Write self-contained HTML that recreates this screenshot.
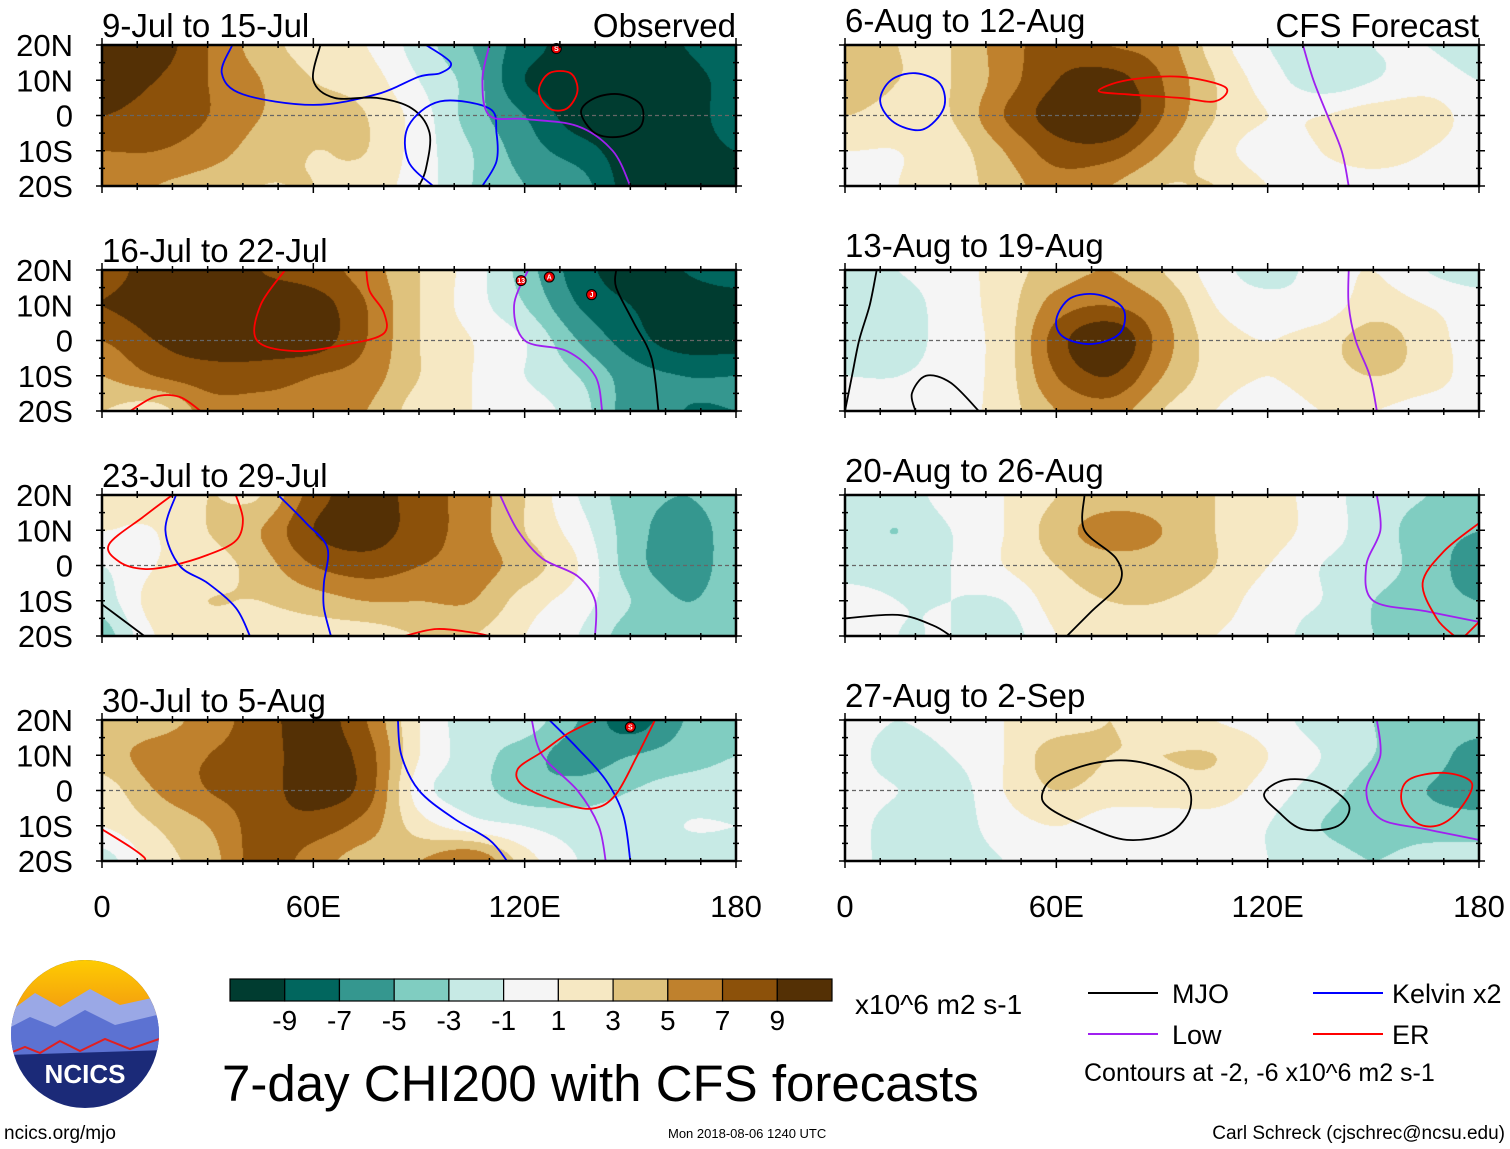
<!DOCTYPE html>
<html><head><meta charset="utf-8">
<style>
body{margin:0;background:#fff;width:1510px;height:1149px;overflow:hidden;position:relative;font-family:"Liberation Sans",sans-serif;}
.t{position:absolute;white-space:nowrap;color:#000;line-height:1;}
</style></head>
<body>
<svg id="main" width="1510" height="1149" style="position:absolute;left:0;top:0"></svg>
<script>
// ---- Data ----
const lons=[0,15,30,45,60,75,90,105,120,135,150,165,180];
const lats=[20,10,0,-10,-20];
const titles=["9-Jul to 15-Jul","16-Jul to 22-Jul","23-Jul to 29-Jul","30-Jul to 5-Aug","6-Aug to 12-Aug","13-Aug to 19-Aug","20-Aug to 26-Aug","27-Aug to 2-Sep"];
const field0=[[9,10,7,4,2,1,-2,-5,-8,-10,-10,-9,-7],[10,9,7,5,3,2,-1,-4,-9,-10,-10,-10,-8],[9,8,7,5,4,3,0,-4,-7,-10,-10,-10,-8],[7,7,6,4,3,3,0,-3,-6,-8,-10,-10,-9],[6,5,4,3,3,2,0,-3,-5,-6,-10,-10,-10]];
const field1=[[8,10,10,9,8,6,3,0,-4,-8,-10,-9,-8],[9,10,10,10,10,7,3,0,-3,-7,-9,-10,-10],[7,9,10,10,10,7,3,1,-1,-5,-8,-10,-10],[5,7,8,8,7,6,3,1,-1,-3,-6,-7,-7],[3,2,6,6,6,5,2,1,0,-2,-6,-7,-7]];
const field2=[[1,2,3,3,8,10,8,6,3,-1,-4,-5,-4],[1,1,3,5,9,10,8,6,3,0,-4,-6,-4],[-1,1,2,4,7,8,7,6,4,1,-4,-6,-4],[-2,2,3,3,4,5,5,5,2,0,-3,-5,-4],[-4,1,2,2,2,2,3,3,1,-1,-4,-4,-4]];
const field3=[[4,4,6,8,10,7,1,-2,-2,-5,-8,-5,-4],[4,6,7,8,10,8,1,-2,-4,-6,-5,-4,-3],[2,5,7,8,10,8,0,-2,-4,-4,-3,-2,-2],[1,3,5,8,8,6,2,0,-1,-2,-2,-1,-1],[-2,2,4,8,6,4,5,7,2,-1,-3,-2,-2]];
const field4=[[4,3,3,6,8,7,6,2,-1,-2,-1,-1,-2],[5,3,3,6,9,10,7,3,0,-2,-1,0,-1],[3,2,3,7,10,11,7,3,1,1,2,2,0],[1,1,2,5,8,8,5,2,0,1,2,1,0],[0,1,2,4,6,5,3,3,1,0,0,0,0]];
const field5=[[-2,-1,0,2,4,5,3,0,-2,0,1,-1,-2],[-3,-2,0,2,6,7,5,1,0,0,2,1,0],[-2,-2,0,2,8,11,6,2,1,2,4,2,0],[-1,-1,0,2,7,9,5,2,1,2,3,2,0],[0,0,0,2,5,6,3,1,0,1,1,0,0]];
const field6=[[-1,-2,0,1,3,4,4,3,2,0,-2,-3,-4],[-2,-3,-1,1,4,6,5,3,2,0,-2,-4,-5],[-2,-2,-1,1,3,4,4,3,1,-1,-2,-4,-6],[0,-1,-1,-1,2,3,3,2,0,-1,-3,-4,-5],[0,-1,-1,-2,1,2,2,1,0,-2,-3,-3,-3]];
const field7=[[0,-1,0,1,2,3,2,1,0,-2,-3,-4,-4],[0,-2,-1,1,4,3,3,3,1,-1,-3,-4,-6],[0,-1,-2,1,3,2,2,2,0,-2,-4,-5,-6],[0,-2,-2,0,1,0,0,0,-1,-3,-4,-4,-4],[0,-2,-2,-1,0,0,0,0,-1,-2,-3,-2,-2]];
const fields=[field0,field1,field2,field3,field4,field5,field6,field7];
const levels=[-9,-7,-5,-3,-1,1,3,5,7,9];
const colors=["#003c30","#01665e","#35978f","#80cdc1","#c7eae5","#f5f5f5","#f6e8c3","#dfc27d","#bf812d","#8c510a","#543005"];
const lines=[
[0,"#0000ff",0,[[37,20],[34,12],[40,6],[60,3],[78,6],[90,11],[96,12],[99,15],[92,20]]],
[0,"#000",0,[[62,20],[60,10],[66,5],[78,5],[88,2],[93,-5],[92,-15],[90,-20]]],
[0,"#0000ff",0,[[94,-20],[87,-13],[87,-3],[96,4],[110,2],[112,-5],[112,-13],[108,-20]]],
[0,"#a020f0",0,[[110,20],[108,10],[110,0],[120,-1],[135,-3],[145,-10],[150,-20]]],
[0,"#ff0000",1,[[124,7],[127,12],[133,12],[135,7],[132,2],[127,2]]],
[0,"#000",1,[[136,1],[140,5],[147,6],[153,3],[153,-3],[147,-6],[140,-5]]],
[1,"#ff0000",0,[[52,20],[45,10],[44,0],[55,-3],[70,-1],[80,2],[80,8],[76,14],[75,20]]],
[1,"#ff0000",0,[[8,-20],[15,-16],[22,-16],[28,-20]]],
[1,"#a020f0",0,[[121,20],[117,10],[120,0],[132,-3],[140,-10],[142,-20]]],
[1,"#000",0,[[146,20],[146,15],[151,5],[156,-5],[158,-20]]],
[2,"#ff0000",0,[[20,20],[12,14],[2,6],[5,1],[12,-1],[20,0],[30,3],[38,7],[40,13],[38,20]]],
[2,"#0000ff",0,[[21,20],[18,10],[22,0],[30,-5],[38,-12],[42,-20]]],
[2,"#0000ff",0,[[50,20],[58,12],[64,5],[63,-5],[63,-12],[65,-20]]],
[2,"#000",0,[[0,-11],[8,-17],[12,-20]]],
[2,"#ff0000",0,[[86,-20],[95,-18],[105,-19],[110,-20]]],
[2,"#a020f0",0,[[113,20],[118,10],[125,2],[135,-3],[140,-10],[140,-20]]],
[3,"#ff0000",0,[[0,-11],[8,-16],[12,-19],[12,-20]]],
[3,"#0000ff",0,[[84,20],[85,10],[90,0],[100,-8],[110,-14],[115,-20]]],
[3,"#a020f0",0,[[122,20],[125,10],[135,0],[141,-10],[143,-20]]],
[3,"#0000ff",0,[[127,20],[135,12],[143,3],[148,-7],[150,-20]]],
[3,"#ff0000",0,[[157,20],[152,10],[146,-1],[140,-5],[132,-4],[120,1],[118,6],[125,11],[132,16],[140,20]]],
[4,"#0000ff",1,[[10,4],[13,10],[20,12],[27,9],[28,2],[22,-4],[14,-2]]],
[4,"#ff0000",1,[[72,7],[80,10],[95,11],[108,8],[105,4],[95,5],[80,6]]],
[4,"#a020f0",0,[[130,20],[133,10],[137,0],[141,-10],[143,-20]]],
[5,"#0000ff",1,[[60,6],[64,12],[72,13],[79,9],[78,2],[70,-1],[62,1]]],
[5,"#000",0,[[9,20],[7,10],[4,0],[2,-10],[0,-20]]],
[5,"#000",0,[[20,-20],[19,-15],[23,-10],[30,-12],[38,-20]]],
[5,"#a020f0",0,[[143,20],[143,10],[145,0],[149,-10],[151,-20]]],
[6,"#000",0,[[68,20],[68,10],[77,2],[78,-5],[70,-13],[63,-20]]],
[6,"#000",0,[[0,-15],[15,-14],[25,-17],[30,-20]]],
[6,"#a020f0",0,[[151,20],[152,10],[148,0],[150,-10],[165,-13],[180,-16]]],
[6,"#ff0000",0,[[180,12],[170,4],[164,-5],[168,-15],[173,-20]]],
[6,"#ff0000",0,[[176,-20],[180,-16]]],
[7,"#000",1,[[56,-1],[60,4],[72,8],[84,8],[96,3],[98,-5],[92,-12],[80,-14],[68,-10],[58,-5]]],
[7,"#000",1,[[119,-1],[125,3],[135,2],[143,-4],[140,-10],[130,-11],[123,-6]]],
[7,"#ff0000",1,[[162,-9],[158,-3],[160,3],[170,5],[178,2],[174,-6],[168,-10]]],
[7,"#a020f0",0,[[151,20],[152,10],[148,0],[152,-8],[165,-11],[180,-14]]]
];
const storms=[[0,129,19,"S"],[1,119,17,"13"],[1,127,18,"A"],[1,139,13,"J"],[3,150,18,"S"]];
const PW=634,PH=141;
const colX=[102,845], rowY=[45,270,495,720];
function px(p){return colX[p<4?0:1];}
function py(p){return rowY[p%4];}
function xs(p,lon){return px(p)+lon/180*PW;}
function ys(p,lat){return py(p)+(20-lat)/40*PH;}
const NS="http://www.w3.org/2000/svg";
const svg=document.getElementById('main');
function mk(tag,attrs,parent){const e=document.createElementNS(NS,tag);for(const k in attrs)e.setAttribute(k,attrs[k]);(parent||svg).appendChild(e);return e;}
function cr(g,i){return g[Math.max(0,Math.min(g.length-1,i))];}
function cat(p0,p1,p2,p3,t){return 0.5*((2*p1)+(-p0+p2)*t+(2*p0-5*p1+4*p2-p3)*t*t+(-p0+3*p1-3*p2+p3)*t*t*t);}
function sample(f,gx,gy){
  const ix=Math.floor(gx),iy=Math.floor(gy),tx=gx-ix,ty=gy-iy;const r=[];
  for(let j=-1;j<=2;j++){const row=cr(f,iy+j);r.push(cat(cr(row,ix-1),cr(row,ix),cr(row,ix+1),cr(row,ix+2),tx));}
  return cat(r[0],r[1],r[2],r[3],ty);
}
function colorIdx(v){let i=0;while(i<levels.length&&v>=levels[i])i++;return i;}
function hex(c){return [parseInt(c.substr(1,2),16),parseInt(c.substr(3,2),16),parseInt(c.substr(5,2),16)];}
const rgb=colors.map(hex);
function smoothPath(pts,closed){
  const n=pts.length;let d="M"+pts[0][0].toFixed(1)+","+pts[0][1].toFixed(1);
  const g=i=>closed?pts[(i+n)%n]:pts[Math.max(0,Math.min(n-1,i))];
  const segs=closed?n:n-1;
  for(let i=0;i<segs;i++){const p0=g(i-1),p1=g(i),p2=g(i+1),p3=g(i+2);
    const c1=[p1[0]+(p2[0]-p0[0])/6,p1[1]+(p2[1]-p0[1])/6],c2=[p2[0]-(p3[0]-p1[0])/6,p2[1]-(p3[1]-p1[1])/6];
    d+="C"+c1[0].toFixed(1)+","+c1[1].toFixed(1)+" "+c2[0].toFixed(1)+","+c2[1].toFixed(1)+" "+p2[0].toFixed(1)+","+p2[1].toFixed(1);}
  return d+(closed?"Z":"");
}
for(let p=0;p<8;p++){
  const cv=document.createElement('canvas');cv.width=PW;cv.height=PH;
  const ctx=cv.getContext('2d');const im=ctx.createImageData(PW,PH);
  for(let y=0;y<PH;y++)for(let x=0;x<PW;x++){
    const v=sample(fields[p],x/PW*12,y/PH*4);const c=rgb[colorIdx(v)];const o=(y*PW+x)*4;
    im.data[o]=c[0];im.data[o+1]=c[1];im.data[o+2]=c[2];im.data[o+3]=255;}
  ctx.putImageData(im,0,0);
  const fo=mk('foreignObject',{x:px(p),y:py(p),width:PW,height:PH});
  
  
  cv.style.display='block';fo.appendChild(cv);
  const eq=mk('line',{x1:px(p),x2:px(p)+PW,y1:ys(p,0),y2:ys(p,0),stroke:'#666','stroke-width':1.2,'stroke-dasharray':'4,3'});
  
  
}
lines.forEach((L,i)=>{
  const p=L[0];const pts=L[3].map(q=>[xs(p,q[0]),ys(p,q[1])]);
  const path=mk('path',{d:smoothPath(pts,L[2]),fill:'none',stroke:L[1],'stroke-width':1.8});
  
  
});
storms.forEach(s=>{
  const g=mk('g',{});
  
  
  mk('circle',{cx:xs(s[0],s[1]),cy:ys(s[0],s[2]),r:5,fill:'#e00',stroke:'#000','stroke-width':1},g);
  const t=mk('text',{x:xs(s[0],s[1]),y:ys(s[0],s[2])+2.5,'font-size':7,'text-anchor':'middle',fill:'#fff','font-family':'Liberation Sans','font-weight':'bold'},g);t.textContent=s[3];
});
for(let p=0;p<8;p++){
  const fr=mk('rect',{x:px(p),y:py(p),width:PW,height:PH,fill:'none',stroke:'#000','stroke-width':2.5});
  
  
  for(let lon=0;lon<=180;lon+=10){const x=xs(p,lon),L=lon%60==0?7:4;
    mk('line',{x1:x,x2:x,y1:py(p)-L,y2:py(p)+3,stroke:'#000','stroke-width':1.5});
    mk('line',{x1:x,x2:x,y1:py(p)+PH-3,y2:py(p)+PH+L,stroke:'#000','stroke-width':1.5});}
  for(let lat=-20;lat<=20;lat+=5){const y=ys(p,lat),L=lat%10==0?6:3;
    mk('line',{x1:px(p)-L,x2:px(p)+3,y1:y,y2:y,stroke:'#000','stroke-width':1.5});
    mk('line',{x1:px(p)+PW-3,x2:px(p)+PW+L,y1:y,y2:y,stroke:'#000','stroke-width':1.5});}
  const tt=mk('text',{x:px(p),y:py(p)-(p<4?8:13),'font-size':33,'font-family':'Liberation Sans'});
  
  
  tt.textContent=titles[p];
}
const ylab=["20N","10N","0","10S","20S"];
for(let r=0;r<4;r++)ylab.forEach((l,i)=>{const t=mk('text',{x:73,y:rowY[r]+i*PH/4+11,'font-size':31,'text-anchor':'end','font-family':'Liberation Sans'});
  
  
  t.textContent=l;});
const xlab=["0","60E","120E","180"];
[0,4].forEach(p=>xlab.forEach((l,i)=>{const t=mk('text',{x:xs(p,i*60),y:917,'font-size':31,'text-anchor':'middle','font-family':'Liberation Sans'});
  
  
  t.textContent=l;}));
const o1=mk('text',{x:736,y:37,'font-size':33,'text-anchor':'end','font-family':'Liberation Sans'});o1.textContent="Observed";


const o2=mk('text',{x:1479,y:37,'font-size':33,'text-anchor':'end','font-family':'Liberation Sans'});o2.textContent="CFS Forecast";


const cbLabels=["-9","-7","-5","-3","-1","1","3","5","7","9"];
const cbw=602/11;
colors.forEach((c,i)=>{const r=mk('rect',{x:230+i*cbw,y:979,width:cbw,height:22,fill:c,stroke:'#000','stroke-width':1.2});
  
  });
cbLabels.forEach((l,i)=>{const t=mk('text',{x:230+(i+1)*cbw,y:1030,'font-size':28,'text-anchor':'middle','font-family':'Liberation Sans'});
  
  
  t.textContent=l;});
const leg=[["MJO","#000",1088,993,1172],["Kelvin x2","#0000ff",1313,993,1392],["Low","#a020f0",1088,1034,1172],["ER","#ff0000",1313,1034,1392]];
leg.forEach(L=>{const g=mk('g',{});
  
  
  mk('line',{x1:L[2],x2:L[2]+70,y1:L[3],y2:L[3],stroke:L[1],'stroke-width':2},g);
  const t=mk('text',{x:L[4],y:L[3]+10,'font-size':27,'font-family':'Liberation Sans'},g);t.textContent=L[0];});
</script>
<div class="t" style="left:855px;top:991px;font-size:28px">x10^6 m2 s-1</div>
<div class="t" style="left:222px;top:1058px;font-size:51px">7-day CHI200 with CFS forecasts</div>
<div class="t" style="left:1084px;top:1061px;font-size:25px">Contours at -2, -6 x10^6 m2 s-1</div>
<div class="t" style="left:4px;top:1124px;font-size:19px">ncics.org/mjo</div>
<div class="t" style="left:668px;top:1127px;font-size:13px">Mon 2018-08-06 1240 UTC</div>
<div class="t" style="right:5px;top:1124px;font-size:19px">Carl Schreck (cjschrec@ncsu.edu)</div>
<svg width="160" height="160" style="position:absolute;left:5px;top:955px">
<defs><clipPath id="cc"><circle cx="80" cy="79" r="74"/></clipPath>
<linearGradient id="sky" x1="0" y1="0" x2="0" y2="1"><stop offset="0" stop-color="#ffd000"/><stop offset="1" stop-color="#f39a10"/></linearGradient></defs>
<g clip-path="url(#cc)">
<rect x="0" y="0" width="160" height="160" fill="#1b2a78"/>
<rect x="0" y="0" width="160" height="60" fill="url(#sky)"/>
<path d="M0,60 L30,38 L55,52 L85,34 L115,50 L160,40 L160,80 L0,85Z" fill="#9aa8e6"/>
<path d="M0,75 L25,62 L50,72 L80,55 L110,70 L160,58 L160,95 L0,100Z" fill="#5c72d2"/>
<path d="M0,100 L20,92 L35,98 L55,86 L75,96 L100,84 L125,94 L160,82" fill="none" stroke="#e02020" stroke-width="2"/>
</g>
<text x="80" y="128" font-size="26" font-weight="bold" fill="#fff" text-anchor="middle" font-family="Liberation Sans">NCICS</text>
</svg>
</body></html>
